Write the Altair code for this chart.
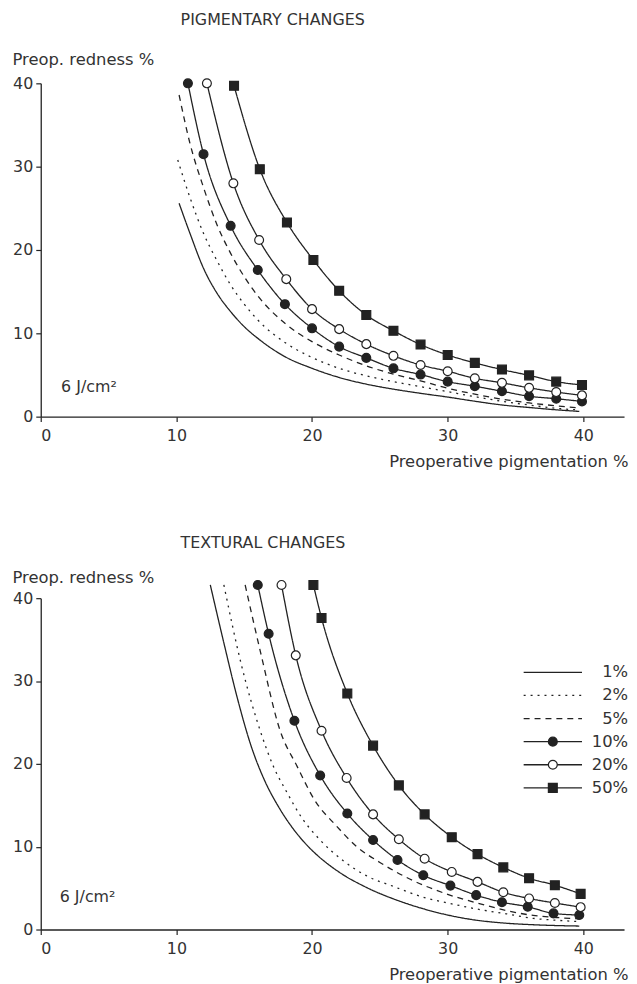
import altair as alt
import pandas as pd

SERIES = ["1%", "2%", "5%", "10%", "20%", "50%"]
MARKED = ["10%", "20%", "50%"]

# ---------------- PIGMENTARY CHANGES (top panel) ----------------
PIG_1_X = [10.2, 11, 12, 13, 14, 15, 16, 18, 20, 22, 24, 26, 28, 30, 32, 34, 36, 38, 39.7]
PIG_1_Y = [25.6, 22.0, 17.8, 14.8, 12.6, 10.8, 9.4, 7.2, 5.8, 4.7, 3.9, 3.3, 2.8, 2.35, 1.85, 1.4, 1.1, 0.82, 0.63]
PIG_2_X = [10.1, 11, 12, 13, 14, 15, 16, 18, 20, 22, 24, 26, 28, 30, 32, 34, 36, 38, 39.7]
PIG_2_Y = [30.8, 26.3, 22.0, 18.7, 15.8, 13.5, 11.6, 8.9, 7.1, 5.8, 4.9, 4.2, 3.6, 3.0, 2.4, 1.85, 1.4, 1.0, 0.8]
PIG_5_X = [10.2, 11, 12, 13, 14, 15, 16, 18, 20, 22, 24, 26, 28, 30, 32, 34, 36, 38, 39.7]
PIG_5_Y = [38.6, 32.8, 27.5, 23.0, 19.6, 16.8, 14.5, 11.2, 9.0, 7.4, 6.1, 5.1, 4.3, 3.4, 2.7, 2.1, 1.65, 1.3, 1.05]
PIG_10_X = [10.85, 12, 14, 16, 18, 20, 22, 24, 26, 28, 30, 32, 34, 36, 38, 39.9]
PIG_10_Y = [40, 31.5, 22.9, 17.6, 13.5, 10.6, 8.4, 7.05, 5.8, 5.05, 4.2, 3.65, 3.05, 2.45, 2.15, 1.83]
PIG_20_X = [12.25, 14.2, 16.1, 18.1, 20, 22, 24, 26, 28, 30, 32, 34, 36, 38, 39.9]
PIG_20_Y = [40, 28.0, 21.2, 16.5, 12.9, 10.5, 8.7, 7.3, 6.2, 5.45, 4.6, 4.06, 3.46, 2.95, 2.55]
PIG_50_X = [14.25, 16.15, 18.15, 20.1, 22, 24, 26, 28, 30, 32, 34, 36, 38, 39.9]
PIG_50_Y = [39.7, 29.7, 23.3, 18.8, 15.1, 12.2, 10.3, 8.65, 7.4, 6.45, 5.65, 4.95, 4.2, 3.8]

# ---------------- TEXTURAL CHANGES (bottom panel) ----------------
TEX_1_X = [12.5, 13.5, 14.5, 15.5, 16.5, 17.5, 18.5, 19.5, 20.5, 21.5, 22.5, 23.5, 24.5, 26, 28, 30, 32, 34, 36, 38, 39.7]
TEX_1_Y = [41.6, 34.6, 27.9, 22.2, 18.0, 14.9, 12.4, 10.4, 8.8, 7.5, 6.4, 5.5, 4.7, 3.7, 2.6, 1.75, 1.15, 0.8, 0.6, 0.48, 0.42]
TEX_2_X = [13.5, 14.8, 16.2, 17.15, 18.1, 19.2, 20.6, 22.3, 24, 26, 28.2, 30.3, 32.4, 34.3, 36.3, 38.2, 39.7]
TEX_2_Y = [41.6, 31.9, 23.9, 19.7, 16.7, 13.6, 10.8, 8.3, 6.5, 5.2, 3.9, 3.1, 2.4, 1.9, 1.35, 1.1, 0.95]
TEX_5_X = [15.07, 16.2, 17.65, 18.9, 20.2, 21.8, 23.3, 25, 27.2, 29.9, 32.4, 34.3, 36.3, 38, 39.7]
TEX_5_Y = [41.6, 33.5, 24.0, 19.7, 15.6, 12.5, 10.0, 8.1, 6.1, 4.3, 3.1, 2.3, 1.7, 1.45, 1.3]
TEX_10_X = [16.0, 16.8, 18.7, 20.6, 22.6, 24.5, 26.3, 28.2, 30.2, 32.1, 34.0, 35.9, 37.8, 39.7]
TEX_10_Y = [41.6, 35.7, 25.2, 18.6, 14.0, 10.8, 8.4, 6.55, 5.3, 4.15, 3.3, 2.75, 1.95, 1.75]
TEX_20_X = [17.75, 18.8, 20.7, 22.55, 24.5, 26.4, 28.3, 30.3, 32.2, 34.1, 36.0, 37.9, 39.8]
TEX_20_Y = [41.6, 33.1, 24.0, 18.3, 13.9, 10.9, 8.55, 6.95, 5.75, 4.5, 3.75, 3.2, 2.7]
TEX_50_X = [20.1, 20.7, 22.6, 24.5, 26.4, 28.3, 30.3, 32.2, 34.1, 36.0, 37.9, 39.8]
TEX_50_Y = [41.6, 37.6, 28.5, 22.2, 17.4, 13.9, 11.15, 9.1, 7.5, 6.2, 5.35, 4.3]

X_TICKS = [0, 10, 20, 30, 40]
Y_TICKS = [0, 10, 20, 30, 40]
FLUENCE_LABEL = "6 J/cm²"

# layout constants (not data)
FONT = "DejaVu Sans"
INK = "#222222"
TXT = "#333333"
PLOT_W = 588
X_MAX = 43

pig = {"1%": (PIG_1_X, PIG_1_Y), "2%": (PIG_2_X, PIG_2_Y), "5%": (PIG_5_X, PIG_5_Y),
       "10%": (PIG_10_X, PIG_10_Y), "20%": (PIG_20_X, PIG_20_Y), "50%": (PIG_50_X, PIG_50_Y)}
tex = {"1%": (TEX_1_X, TEX_1_Y), "2%": (TEX_2_X, TEX_2_Y), "5%": (TEX_5_X, TEX_5_Y),
       "10%": (TEX_10_X, TEX_10_Y), "20%": (TEX_20_X, TEX_20_Y), "50%": (TEX_50_X, TEX_50_Y)}


def to_df(d):
    rows = []
    for s, (xs, ys) in d.items():
        for x, y in zip(xs, ys):
            rows.append({"series": s, "x": x, "y": y})
    return pd.DataFrame(rows)


dash_scale = alt.Scale(domain=SERIES, range=[[1, 0], [2, 5], [6, 5], [1, 0], [1, 0], [1, 0]])
shape_scale = alt.Scale(domain=MARKED, range=["circle", "circle", "square"])
fill_scale = alt.Scale(domain=MARKED, range=[INK, "white", INK])


def panel(d, title, title_offset, ytitle_y, ann_xy, height, legend=False):
    df = to_df(d)
    xs = alt.Scale(domain=[0, X_MAX], nice=False)
    ys = alt.Scale(domain=[0, 40], nice=False)
    xaxis = alt.Axis(values=X_TICKS, title="Preoperative pigmentation %", titleX=PLOT_W + 4,
                     titleY=45, titleAlign="right", titleBaseline="middle", titleAnchor="end")
    yaxis = alt.Axis(values=Y_TICKS, title="Preop. redness %", titleAngle=0, titleX=-29,
                     titleY=ytitle_y, titleAlign="left", titleBaseline="middle")
    X = alt.X("x:Q", scale=xs, axis=xaxis)
    Y = alt.Y("y:Q", scale=ys, axis=yaxis)

    lines = alt.Chart(df).mark_line(interpolate="monotone", strokeWidth=1.3, color=INK).encode(
        x=X, y=Y, detail="series:N",
        strokeDash=alt.StrokeDash("series:N", scale=dash_scale, legend=None),
    )
    pts = alt.Chart(df[df.series.isin(MARKED)]).mark_point(
        filled=True, stroke=INK, strokeWidth=1.2, size=80, opacity=1
    ).encode(
        x="x:Q", y="y:Q",
        shape=alt.Shape("series:N", scale=shape_scale, legend=None),
        fill=alt.Fill("series:N", scale=fill_scale, legend=None),
    )
    ann = alt.Chart(pd.DataFrame({"x": [ann_xy[0]], "y": [ann_xy[1]], "t": [FLUENCE_LABEL]})).mark_text(
        align="left", baseline="middle", font=FONT, fontSize=16, color=TXT
    ).encode(x="x:Q", y="y:Q", text="t:N")
    layers = [lines, pts, ann]

    if legend:
        row_y = [31.05 - 2.79 * i for i in range(len(SERIES))]
        ldf = pd.DataFrame({"series": SERIES, "y": row_y, "x": [35.6] * 6, "x2": [39.9] * 6,
                            "xm": [37.75] * 6, "xt": [43.3] * 6})
        lrule = alt.Chart(ldf).mark_rule(strokeWidth=1.3, color=INK).encode(
            x="x:Q", x2="x2:Q", y="y:Q",
            strokeDash=alt.StrokeDash("series:N", scale=dash_scale, legend=None))
        lpts = alt.Chart(ldf[ldf.series.isin(MARKED)]).mark_point(
            filled=True, stroke=INK, strokeWidth=1.2, size=80, opacity=1).encode(
            x=alt.X("xm:Q"), y="y:Q",
            shape=alt.Shape("series:N", scale=shape_scale, legend=None),
            fill=alt.Fill("series:N", scale=fill_scale, legend=None))
        ltxt = alt.Chart(ldf).mark_text(align="right", baseline="middle", font=FONT,
                                        fontSize=16.5, color=TXT).encode(
            x=alt.X("xt:Q"), y="y:Q", text="series:N")
        layers += [lrule, lpts, ltxt]

    return alt.layer(*layers).properties(
        width=PLOT_W, height=height,
        title=alt.TitleParams(title, anchor="start", frame="group", dx=141, offset=title_offset,
                              font=FONT, fontSize=16, fontWeight="normal", color=TXT),
    )


top = panel(pig, "PIGMENTARY CHANGES", 24, -24, (1.5, 3.5), 336)
bottom = panel(tex, "TEXTURAL CHANGES", 19, -21, (1.4, 3.9), 334, legend=True)

chart = alt.vconcat(top, bottom, spacing=65).properties(
    padding={"left": 4, "top": 0, "right": 0, "bottom": 0}
).configure_view(stroke=None).configure_axis(
    grid=False, domainColor=INK, domainWidth=1.3, tickColor=INK, tickWidth=1.2, tickSize=5,
    labelFont=FONT, labelFontSize=16, labelColor=TXT, labelPadding=3,
    titleFont=FONT, titleFontSize=16.5, titleFontWeight="normal", titleColor=TXT,
).configure_axisX(labelPadding=6)

chart.save("out.html", embed_options={"renderer": "svg", "actions": False})
